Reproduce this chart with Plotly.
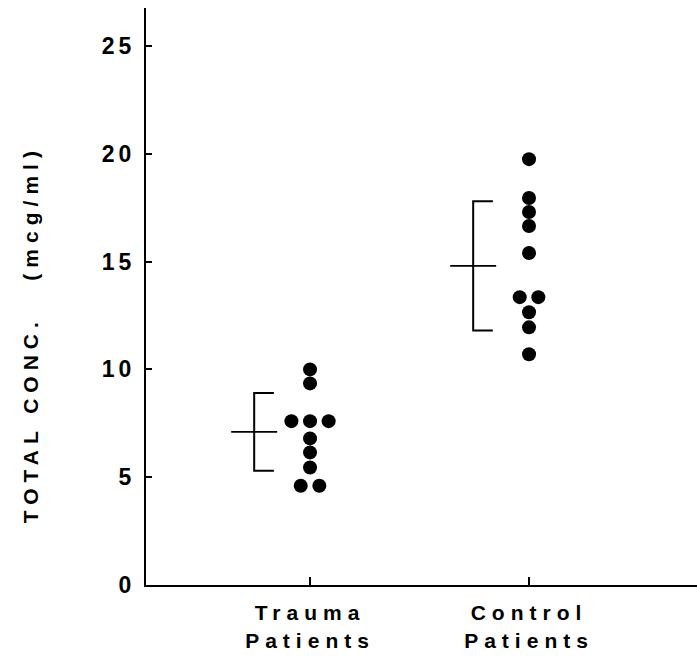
import plotly.graph_objects as go

# ---- data ----
categories = ["Trauma<br>Patients", "Control<br>Patients"]
trauma_values = [10.0, 9.35, 7.6, 7.6, 7.6, 6.8, 6.15, 5.45, 4.6, 4.6]
control_values = [19.75, 17.95, 17.3, 16.65, 15.4, 13.35, 13.35, 12.65, 11.95, 10.7]
group_means = [7.1, 14.8]
group_sd = [1.8, 3.0]
y_tick_vals = [0, 5, 10, 15, 20, 25]
y_tick_text = ["0", "5", "10", "15", "20", "25"]

FONT = "Liberation Sans, Arial, sans-serif"
SPREAD = 0.085  # horizontal spacing for coincident dots (style)


def spread_x(center, values):
    xs = []
    seen = {}
    counts = {v: values.count(v) for v in values}
    for v in values:
        k = counts[v]
        i = seen.get(v, 0)
        seen[v] = i + 1
        xs.append(center + (i - (k - 1) / 2) * SPREAD)
    return xs


fig = go.Figure()

groups = [trauma_values, control_values]
for gi, vals in enumerate(groups):
    cx = gi + 1
    fig.add_trace(go.Scatter(
        x=spread_x(cx, vals), y=vals, mode="markers",
        marker=dict(size=14, color="black"), showlegend=False, hoverinfo="y"))

    m, s = group_means[gi], group_sd[gi]
    xv = cx - 0.255
    xa = cx - 0.165
    # bracket (mean +/- SD)
    fig.add_trace(go.Scatter(
        x=[xa, xv, xv, xa], y=[m + s, m + s, m - s, m - s], mode="lines",
        line=dict(color="black", width=2), showlegend=False, hoverinfo="skip"))
    # mean line
    fig.add_trace(go.Scatter(
        x=[cx - 0.36, cx - 0.15], y=[m, m], mode="lines",
        line=dict(color="black", width=1.6), showlegend=False, hoverinfo="skip"))

fig.add_annotation(
    text="TOTAL CONC.\u00a0\u00a0\u00a0(mcg/ml)", textangle=-90,
    xref="paper", yref="paper", x=-0.210, y=0.435,
    xanchor="center", yanchor="middle", showarrow=False,
    font=dict(family=FONT, size=21, color="black", weight="bold"))

fig.update_layout(
    width=697, height=661,
    margin=dict(l=146, r=0, t=8, b=76),
    paper_bgcolor="white", plot_bgcolor="white",
    font=dict(family=FONT, color="black"),
    xaxis=dict(
        range=[0.251, 2.767], tickvals=[1, 2], ticktext=categories,
        showgrid=False, zeroline=False, showline=True, linecolor="black",
        linewidth=2, ticks="inside", ticklen=8, tickwidth=1.5, tickcolor="black",
        tickfont=dict(family=FONT, size=21, color="black", weight="bold"),
        ticklabelstandoff=8),
    yaxis=dict(
        range=[0, 26.76], tickvals=y_tick_vals, ticktext=y_tick_text,
        showgrid=False, zeroline=False, showline=True, linecolor="black",
        linewidth=2, ticks="inside", ticklen=6, tickwidth=1.5, tickcolor="black",
        tickfont=dict(family=FONT, size=23, color="black", weight="bold"),
        ticklabelstandoff=4),
)

post = """
document.body.style.margin = '0';
document.body.style.padding = '0';
var gd = document.getElementById('{plot_id}');
function applySpacing(){
  gd.querySelectorAll('.xtick text').forEach(function(t){ t.style.letterSpacing='6px'; });
  gd.querySelectorAll('.ytick text').forEach(function(t){ t.style.letterSpacing='4px'; });
  gd.querySelectorAll('.annotation-text').forEach(function(t){ t.style.letterSpacing='6px'; });
}
applySpacing();
gd.on('plotly_afterplot', applySpacing);
"""

fig.write_html("out.html", post_script=post, config={"displayModeBar": False})
